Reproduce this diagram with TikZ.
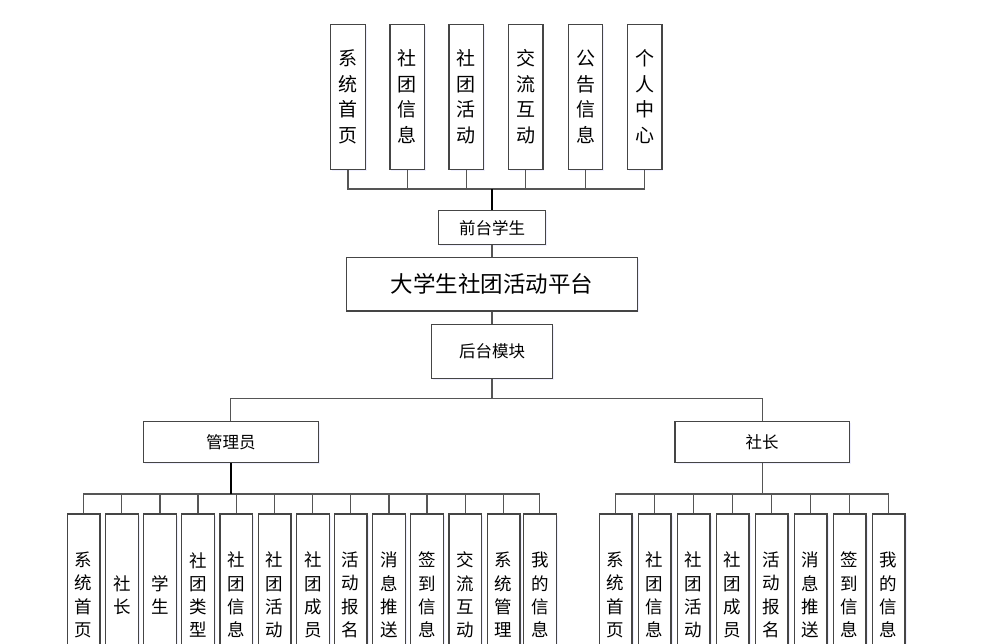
\documentclass[tikz,border=0pt]{standalone}
\usepackage{fontspec}
\newfontfamily\cjk{Noto Sans CJK SC}
\usetikzlibrary{shadows}
\definecolor{boxc}{HTML}{454545}
\definecolor{linec}{HTML}{555555}
\begin{document}
\begin{tikzpicture}[x=1pt,y=-1pt,
  box/.style={draw=boxc, line width=1.2pt, fill=white, inner sep=0pt, align=center,
    drop shadow={shadow xshift=1.5pt, shadow yshift=-1.5pt, opacity=0.3, fill=blue!20}},
  topbox/.style={box, minimum width=34.5pt, minimum height=145pt, font=\cjk\fontsize{19}{25.5}\selectfont},
  botbox/.style={box, minimum width=32.7pt, minimum height=162pt, font=\cjk\fontsize{17.5}{23.3}\selectfont},
  midbox/.style={box, font=\cjk\fontsize{16.5}{20}\selectfont},
  conn/.style={draw=linec, line width=1.2pt},
  thickconn/.style={draw=black, line width=2.2pt}]
\useasboundingbox (0,0) rectangle (988,643);
\clip (0,0) rectangle (988,643);
\fill[white] (0,0) rectangle (988,643);

% top row
\foreach \i/\x/\t in {1/348/{系\\统\\首\\页},2/407.2/{社\\团\\信\\息},3/466.3/{社\\团\\活\\动},4/525.7/{交\\流\\互\\动},5/585.5/{公\\告\\信\\息},6/644.7/{个\\人\\中\\心}}
  \node[topbox] (t\i) at (\x,96.7) {\t};

\node[midbox, minimum width=107.4pt, minimum height=34pt] (front) at (492,227.7) {前台学生};
\node[box, minimum width=290.6pt, minimum height=53.3pt, font=\cjk\fontsize{22.5}{26}\selectfont] (main) at (492,284.3) {大学生社团活动平台};
\node[midbox, minimum width=120.6pt, minimum height=53.6pt] (back) at (492,351.5) {后台模块};
\node[midbox, minimum width=175pt, minimum height=41pt] (admin) at (230.8,442.2) {管理员};
\node[midbox, minimum width=174.3pt, minimum height=41pt] (pres) at (762.2,442.2) {社长};

% admin children
\foreach \i/\x/\t in {1/83.6/{系\\统\\首\\页},2/121.8/{社\\长},3/160/{学\\生},4/198/{社\\团\\类\\型},5/236.3/{社\\团\\信\\息},6/274.6/{社\\团\\活\\动},7/312.8/{社\\团\\成\\员},8/350.7/{活\\动\\报\\名},9/389/{消\\息\\推\\送},10/427/{签\\到\\信\\息},11/465.3/{交\\流\\互\\动},12/503.7/{系\\统\\管\\理},13/539.8/{我\\的\\信\\息}}
  \node[botbox] (a\i) at (\x,595) {\t};

% president children
\foreach \i/\x/\t in {1/615.7/{系\\统\\首\\页},2/654.7/{社\\团\\信\\息},3/693.7/{社\\团\\活\\动},4/732.7/{社\\团\\成\\员},5/771.7/{活\\动\\报\\名},6/810.7/{消\\息\\推\\送},7/849.7/{签\\到\\信\\息},8/888.7/{我\\的\\信\\息}}
  \node[botbox] (p\i) at (\x,595) {\t};

% connectors: top
\coordinate (tb) at (492,189);
\draw[conn] (t1.south) |- (tb) -| (t6.south);
\foreach \i in {2,3,4,5} \draw[conn] (t\i.south) -- (t\i.south |- tb);
\draw[thickconn] (tb) -- (front.north);
\draw[conn] (front.south) -- (main.north);
\draw[conn] (main.south) -- (back.north);

% back to admin / president
\coordinate (mb) at (492,398.3);
\draw[conn] (back.south) -- (mb);
\draw[conn] (admin.north) |- (mb) -| (pres.north);

% admin bus
\coordinate (ab) at (230.8,494);
\draw[conn] (a1.north) |- (ab) -| (a13.north);
\foreach \i in {2,...,12} \draw[conn] (a\i.north) -- (a\i.north |- ab);
\draw[thickconn] (admin.south) -- (ab);

% president bus
\coordinate (pb) at (762.2,494);
\draw[conn] (p1.north) |- (pb) -| (p8.north);
\foreach \i in {2,...,7} \draw[conn] (p\i.north) -- (p\i.north |- pb);
\draw[conn] (pres.south) -- (pb);
\end{tikzpicture}
\end{document}
